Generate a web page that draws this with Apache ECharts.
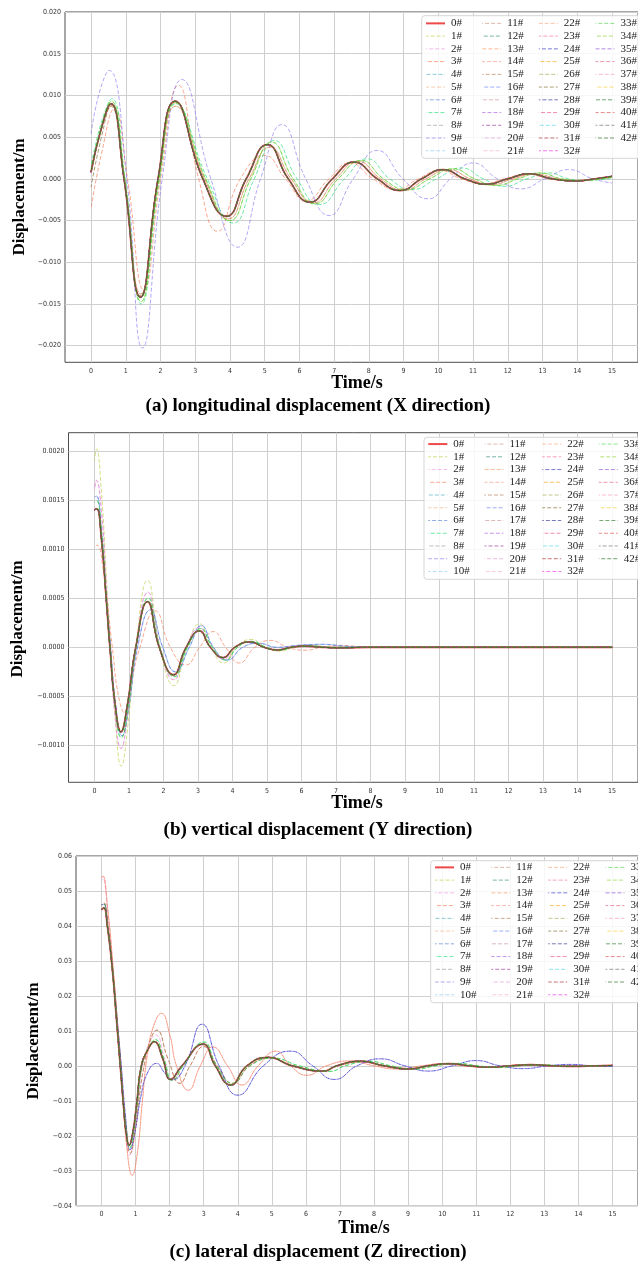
<!DOCTYPE html>
<html><head><meta charset="utf-8">
<script src="https://cdn.jsdelivr.net/npm/echarts@6/dist/echarts.min.js"></script>
<style>html,body{margin:0;padding:0;background:#fff}#c{width:638px;height:1267px}</style>
</head><body><div id="c"></div>
<script>
// ---------- tick labels / categories ----------
const timeTicks = [0,1,2,3,4,5,6,7,8,9,10,11,12,13,14,15];
const yTicksA = [-0.020,-0.015,-0.010,-0.005,0,0.005,0.010,0.015,0.020];
const yTicksB = [-0.0010,-0.0005,0,0.0005,0.0010,0.0015,0.0020];
const yTicksC = [-0.04,-0.03,-0.02,-0.01,0,0.01,0.02,0.03,0.04,0.05,0.06];
const pointNames = ['0#','1#','2#','3#','4#','5#','6#','7#','8#','9#','10#','11#','12#','13#','14#','15#','16#','17#','18#','19#','20#','21#','22#','23#','24#','25#','26#','27#','28#','29#','30#','31#','32#','33#','34#','35#','36#','37#','38#','39#','40#','41#','42#'];
const pointColors = ['#e41a1c','#b5c934','#f08ce0','#f5704a','#3fa7c0','#f3a97a','#4a78d0','#10d870','#909090','#7f6ff0','#7fc4f0',
 '#c88a70','#208070','#f79050','#f58a7a','#b06a40','#5a78f0','#c88a8a','#a050e0','#902090','#e090d0','#f5a8b8',
 '#f5a070','#f56090','#2020c0','#f5a000','#a0a040','#706018','#202090','#f04080','#40d0e0','#a01818','#f020e0',
 '#40d040','#80d020','#8040d0','#e05070','#f590b0','#f5c820','#1a701a','#e04040','#606060','#0e600e'];

// ---------- (a) longitudinal displacement X  [time s, displacement m] ----------
const aMain = [[0,0.0008],[0.28,0.0058],[0.57,0.0090],[0.95,0],[1.42,-0.0142],[1.93,0],[2.42,0.0093],[3.22,0],[3.9,-0.0045],[4.47,0],[5.08,0.0041],[5.68,0],[6.3,-0.0028],[6.95,0],[7.57,0.0020],[8.24,0],[8.9,-0.0014],[9.52,0],[10.14,0.0011],[10.76,0],[11.38,-0.00065],[12.0,0],[12.62,0.0006],[13.28,0],[13.95,-0.00025],[14.52,0],[15,0.0003]];
const aOlive = [[0,-0.0010],[0.3,0.0050],[0.57,0.0087],[0.95,0],[1.42,-0.0140],[1.93,0],[2.42,0.0092],[3.22,0],[3.9,-0.0045],[4.47,0],[5.08,0.0041],[5.68,0],[6.3,-0.0028],[6.95,0],[7.57,0.0020],[8.24,0],[8.9,-0.0014],[9.52,0],[10.14,0.0011],[10.76,0],[11.38,-0.00065],[12.0,0],[12.62,0.0006],[13.28,0],[13.95,-0.00025],[14.52,0],[15,0.0003]];
const aLav = [[0,0.0054],[0.25,0.0105],[0.52,0.0130],[1.03,0],[1.48,-0.0203],[2.05,0],[2.62,0.0119],[3.45,0],[4.22,-0.0082],[4.88,0],[5.5,0.0065],[6.18,0],[6.86,-0.0044],[7.55,0],[8.24,0.0034],[8.98,0],[9.71,-0.0024],[10.35,0],[11.0,0.0019],[11.7,0],[12.38,-0.0012],[13.07,0],[13.76,0.0011],[14.45,0],[15,-0.0005]];
const aSalmon = [[0,-0.0036],[0.3,0.0030],[0.67,0.0084],[1.05,0],[1.52,-0.0133],[2.0,0],[2.52,0.0112],[3.1,0],[3.64,-0.0063],[4.3,0],[5.0,0.0028],[5.6,0],[6.2,-0.0026],[6.85,0],[7.45,0.0019],[8.12,0],[8.8,-0.0013],[9.42,0],[10.05,0.0010],[10.66,0],[11.3,-0.0006],[11.9,0],[12.55,0.00055],[13.2,0],[13.9,-0.00025],[14.45,0],[15,0.0003]];
const aGreen = [[0,0.0015],[0.3,0.0068],[0.6,0.0096],[0.98,0],[1.45,-0.0150],[1.97,0],[2.45,0.0090],[3.35,0],[4.1,-0.0053],[4.7,0],[5.28,0.0046],[5.93,0],[6.57,-0.0031],[7.3,0],[7.95,0.0024],[8.6,0],[9.24,-0.0013],[9.95,0],[10.66,0.0013],[11.3,0],[11.9,-0.0009],[12.55,0],[13.19,0.0007],[13.75,0],[14.3,-0.0002],[15,0.0001]];
const aGreen2 = [[0,0.0010],[0.3,0.0063],[0.58,0.0093],[0.97,0],[1.44,-0.0147],[1.96,0],[2.44,0.0091],[3.3,0],[4.0,-0.0050],[4.6,0],[5.2,0.0044],[5.82,0],[6.45,-0.0030],[7.12,0],[7.78,0.0022],[8.42,0],[9.08,-0.0013],[9.75,0],[10.42,0.0012],[11.05,0],[11.65,-0.0008],[12.3,0],[12.92,0.0007],[13.55,0],[14.15,-0.0002],[14.7,0],[15,0.0002]];
const aTan = [[0,0.0009],[0.3,0.0060],[0.58,0.0088],[0.96,0],[1.43,-0.0138],[1.95,0],[2.44,0.0087],[3.27,0],[3.95,-0.0048],[4.55,0],[5.15,0.0038],[5.76,0],[6.4,-0.0029],[7.05,0],[7.68,0.0021],[8.34,0],[9.0,-0.0014],[9.64,0],[10.3,0.0011],[10.92,0],[11.52,-0.0007],[12.16,0],[12.78,0.0006],[13.42,0],[14.05,-0.00025],[14.6,0],[15,0.0002]];

// ---------- (b) vertical displacement Y ----------
const bMain = [[0,0.00140],[0.07,0.00141],[0.2,0.00112],[0.35,0.00046],[0.45,0],[0.6,-0.00058],[0.77,-0.00086],[0.95,-0.0006],[1.2,0],[1.54,0.000465],[1.88,0],[2.29,-0.00028],[2.66,0],[3.04,0.000166],[3.36,0],[3.73,-0.000105],[4.07,0],[4.5,0.000054],[4.92,0],[5.3,-0.000027],[5.7,0],[6.1,0.000012],[6.6,0],[7.1,-0.000005],[8,0],[15,0]];
const bYellow = [[0,0.0019],[0.06,0.00202],[0.2,0.0016],[0.35,0.0007],[0.47,0],[0.6,-0.0007],[0.78,-0.00121],[0.97,-0.0008],[1.2,0],[1.54,0.00068],[1.9,0],[2.3,-0.00039],[2.68,0],[3.04,0.00024],[3.38,0],[3.75,-0.00016],[4.1,0],[4.55,0.00008],[4.95,0],[5.35,-0.00004],[5.8,0],[6.2,0.00002],[7,0],[15,0]];
const bPink = [[0,0.0016],[0.06,0.0017],[0.2,0.0014],[0.35,0.0006],[0.46,0],[0.6,-0.0007],[0.77,-0.00103],[0.96,-0.0007],[1.2,0],[1.55,0.00056],[1.9,0],[2.3,-0.00033],[2.66,0],[3.04,0.0002],[3.37,0],[3.74,-0.00012],[4.08,0],[4.5,0.00006],[4.93,0],[5.3,-0.00003],[5.7,0],[6.1,0.000015],[7,0],[15,0]];
const bSalmon = [[0,0.00102],[0.08,0.00104],[0.25,0.0008],[0.52,0],[0.7,-0.0005],[0.88,-0.00067],[1.05,-0.0004],[1.32,0],[1.76,0.00037],[2.2,0],[2.65,-0.00018],[3.05,0],[3.45,0.00016],[3.8,0],[4.2,-0.00016],[4.65,0],[5.1,0.00007],[5.6,0],[6.1,-0.00003],[6.6,0],[7.1,0.00002],[8,0],[15,0]];
const bBlue = [[0,0.00153],[0.06,0.00154],[0.2,0.0012],[0.35,0.0005],[0.47,0],[0.62,-0.0006],[0.8,-0.0009],[1.0,-0.0006],[1.25,0],[1.62,0.00038],[1.98,0],[2.35,-0.00025],[2.75,0],[3.1,0.00022],[3.45,0],[3.85,-0.00013],[4.3,0],[4.75,0.00004],[5.3,0],[5.9,0.00002],[6.6,0.00003],[7.3,0.00001],[8,0],[15,0]];
const bGreen = [[0,0.00148],[0.07,0.00149],[0.2,0.0012],[0.35,0.0005],[0.46,0],[0.6,-0.0006],[0.78,-0.00092],[0.97,-0.00065],[1.21,0],[1.56,0.0005],[1.9,0],[2.31,-0.0003],[2.7,0],[3.08,0.00019],[3.42,0],[3.8,-0.00013],[4.15,0],[4.56,0.00006],[4.98,0],[5.36,-0.00003],[5.76,0],[6.16,0.000015],[7,0],[15,0]];

// ---------- (c) lateral displacement Z ----------
const cMain = [[0,0.0447],[0.07,0.0452],[0.17,0.0400],[0.31,0.0283],[0.45,0.012],[0.55,0],[0.65,-0.012],[0.72,-0.019],[0.81,-0.0227],[0.92,-0.019],[1.03,-0.011],[1.17,0],[1.36,0.0046],[1.55,0.0069],[1.8,0.002],[2.02,-0.0039],[2.36,0],[2.98,0.0062],[3.34,0],[3.79,-0.0055],[4.27,0],[4.89,0.0024],[5.6,0],[6.52,-0.0015],[6.9,0],[7.6,0.0013],[8.3,0],[9.0,-0.0009],[9.6,0],[10.2,0.0006],[10.8,0],[11.4,-0.0004],[12.0,0],[12.6,0.0003],[13.25,0],[13.9,-0.00015],[14.5,0],[15,0.0001]];
const cSalmon = [[0,0.0535],[0.04,0.0543],[0.17,0.046],[0.35,0.027],[0.5,0.008],[0.62,-0.008],[0.75,-0.024],[0.9,-0.0313],[1.05,-0.025],[1.2,-0.010],[1.35,0.0035],[1.55,0.012],[1.76,0.0150],[2.0,0.009],[2.2,0],[2.55,-0.0070],[2.9,0],[3.27,0.0054],[3.7,0],[4.12,-0.0055],[4.6,0],[5.12,0.0042],[5.55,0],[6.03,-0.0027],[6.6,0],[7.3,0.0014],[8.0,0],[8.7,-0.0009],[9.4,0],[10.0,0.0006],[10.6,0],[11.2,-0.0004],[11.85,0],[12.5,0.0003],[13.1,0],[13.8,-0.00015],[14.4,0],[15,0.0001]];
const cPink = [[0,0.0530],[0.04,0.0535],[0.17,0.045],[0.33,0.028],[0.47,0.010],[0.57,-0.002],[0.68,-0.016],[0.83,-0.0255],[0.95,-0.021],[1.1,-0.008],[1.2,0],[1.4,0.0065],[1.6,0.0088],[1.85,0.002],[2.06,-0.0042],[2.38,0],[2.98,0.0060],[3.36,0],[3.8,-0.0054],[4.28,0],[4.9,0.0023],[5.6,0],[6.5,-0.0015],[6.9,0],[7.6,0.0013],[8.3,0],[9.0,-0.0009],[9.6,0],[10.2,0.0006],[10.8,0],[11.4,-0.0004],[12.0,0],[12.6,0.0003],[13.25,0],[13.9,-0.00015],[14.5,0],[15,0.0001]];
const cBlue = [[0,0.0460],[0.07,0.0462],[0.18,0.040],[0.33,0.027],[0.48,0.011],[0.58,0],[0.7,-0.014],[0.84,-0.0240],[0.98,-0.019],[1.15,-0.009],[1.35,-0.002],[1.62,0.0007],[1.85,-0.002],[2.08,-0.0040],[2.45,0],[2.95,0.0119],[3.45,0],[4.0,-0.0084],[4.75,0],[5.55,0.0042],[6.2,0],[6.84,-0.0039],[7.5,0],[8.2,0.0020],[8.9,0],[9.6,-0.0015],[10.3,0],[11.0,0.0015],[11.7,0],[12.4,-0.0008],[13.1,0],[13.8,0.0004],[14.4,0],[15,-0.0002]];
const cTan = [[0,0.0460],[0.07,0.0466],[0.18,0.041],[0.33,0.028],[0.47,0.012],[0.57,0],[0.68,-0.014],[0.85,-0.0250],[0.98,-0.019],[1.12,-0.008],[1.25,0],[1.42,0.0070],[1.62,0.0102],[1.95,0.002],[2.3,-0.0050],[2.6,0],[3.0,0.0055],[3.4,0],[3.85,-0.0050],[4.35,0],[4.95,0.0022],[5.65,0],[6.5,-0.0014],[6.95,0],[7.65,0.0012],[8.35,0],[9.05,-0.0008],[9.65,0],[10.25,0.0006],[10.85,0],[11.45,-0.0004],[12.05,0],[12.65,0.0003],[13.3,0],[13.95,-0.00015],[14.55,0],[15,0.0001]];
const cGreen = [[0,0.0458],[0.07,0.0462],[0.17,0.0405],[0.32,0.028],[0.46,0.012],[0.56,0],[0.66,-0.012],[0.74,-0.019],[0.83,-0.0235],[0.94,-0.019],[1.05,-0.011],[1.19,0],[1.38,0.0052],[1.58,0.0075],[1.83,0.002],[2.08,-0.0042],[2.4,0],[3.0,0.0068],[3.38,0],[3.85,-0.0050],[4.35,0],[5.05,0.0022],[5.8,0],[6.7,-0.0016],[7.15,0],[7.85,0.0013],[8.5,0],[9.2,-0.0010],[9.8,0],[10.45,0.0007],[11.05,0],[11.65,-0.0005],[12.25,0],[12.9,0.0003],[13.5,0],[14.1,-0.00015],[14.7,0],[15,0.0001]];

// which measured curve each point follows (default: main curve)
const assignA = {3:aSalmon, 9:aLav, 7:aGreen, 33:aGreen2, 34:aGreen2, 15:aTan, 22:aTan, 27:aOlive};
const assignB = {1:bYellow, 2:bPink, 20:bPink, 3:bSalmon, 6:bBlue, 16:bBlue, 7:bGreen, 33:bGreen};
const assignC = {3:cSalmon, 14:cSalmon, 2:cPink, 9:cBlue, 24:cBlue, 15:cTan, 11:cTan, 7:cGreen, 33:cGreen};

const panels = [
  {main:aMain, assign:assignA, grid:{left:65, top:12, width:577.5, height:350.3}, ymin:-0.022, ymax:0.020, yticks:yTicksA, dec:3,
   legendBox:[421.7,15.7,230,142.6], legendTop:17, legendCols:[425,481.7,538.3,595],
   ytitle:[19.5,197], xtitle:[357,383], caption:[318,406], captionText:'(a) longitudinal displacement (X direction)'},
  {main:bMain, assign:assignB, grid:{left:68.5, top:432.7, width:577.5, height:349.6}, ymin:-0.001375, ymax:0.002185, yticks:yTicksB, dec:4,
   legendBox:[424,437.3,230,142], legendTop:437.7, legendCols:[427.3,484,541.7,598.3],
   ytitle:[17.5,619], xtitle:[357,803], caption:[318,830], captionText:'(b) vertical displacement (Y direction)'},
  {main:cMain, assign:assignC, grid:{left:76, top:856, width:577.5, height:349.7}, ymin:-0.04, ymax:0.06, yticks:yTicksC, dec:2,
   legendBox:[430.7,860.7,230,142], legendTop:861, legendCols:[434,490.7,547.7,605],
   ytitle:[34,1041], xtitle:[364,1228], caption:[318,1252], captionText:'(c) lateral displacement (Z direction)'}
];

const grids=[], xAxes=[], yAxes=[], series=[], legends=[], graphics=[];
panels.forEach((p,k)=>{
  grids.push(Object.assign({show:true, borderColor:'#4d4d4d', borderWidth:1, backgroundColor:'transparent'}, p.grid));
  xAxes.push({type:'value', gridIndex:k, min:-0.75, max:15.75,
    axisLine:{show:false}, axisTick:{show:false, customValues:timeTicks},
    axisLabel:{customValues:timeTicks, fontSize:7, color:'#333', margin:5, fontFamily:'"DejaVu Sans Condensed","DejaVu Sans",sans-serif'},
    splitLine:{show:true, lineStyle:{color:'#cfcfcf', width:1}}});
  yAxes.push({type:'value', gridIndex:k, min:p.ymin, max:p.ymax,
    axisLine:{show:false}, axisTick:{show:false, customValues:p.yticks},
    axisLabel:{customValues:p.yticks, fontSize:7, color:'#333', margin:4, fontFamily:'"DejaVu Sans Condensed","DejaVu Sans",sans-serif',
      formatter:v=>(v<-1e-12?'\u2212':'')+Math.abs(v).toFixed(p.dec)},
    splitLine:{show:true, lineStyle:{color:'#cfcfcf', width:1}}});
  pointNames.forEach((nm,i)=>{
    const d = p.assign[i] || p.main;
    series.push({type:'line', name:nm, xAxisIndex:k, yAxisIndex:k, data:d, smooth:0.5,
      symbol:'none', showSymbol:false, silent:true, animation:false, clip:true,
      lineStyle: i===0 ? {color:pointColors[i], width:1.8, type:'solid', opacity:0.85}
                       : {color:pointColors[i], width:1, type:[4,2], dashOffset:(i*1.37)%6, opacity:0.6},
      itemStyle:{color:pointColors[i]}});
  });
  // legend frame
  const b=p.legendBox;
  graphics.push({type:'rect', z:3, silent:true, shape:{x:b[0], y:b[1], width:b[2], height:b[3], r:3},
    style:{fill:'rgba(255,255,255,0.82)', stroke:'#d6d6d6', lineWidth:1}});
  for(let c=0;c<4;c++){
    legends.push({orient:'vertical', left:p.legendCols[c], top:p.legendTop, padding:0, itemGap:0,
      itemWidth:19, itemHeight:8, selectedMode:false, z:5,
      itemStyle:{opacity:0, borderWidth:0},
      lineStyle:{width:1},
      data:pointNames.slice(c*11, c*11+11).map(nm => nm==='0#'
        ? {name:nm, lineStyle:{width:2, color:'#ef4a4a', opacity:1}} : {name:nm}),
      textStyle:{fontFamily:'"Liberation Serif","Times New Roman",serif', fontSize:11, color:'#222', lineHeight:12.74, padding:[0,0,0,1]}});
  }
  graphics.push({type:'text', silent:true, x:p.ytitle[0], y:p.ytitle[1], rotation:Math.PI/2,
    style:{text:'Displacement/m', font:'bold 17px "Liberation Serif"', fill:'#000', textAlign:'center', textVerticalAlign:'middle'}});
  graphics.push({type:'text', silent:true, x:p.xtitle[0], y:p.xtitle[1],
    style:{text:'Time/s', font:'bold 18px "Liberation Serif"', fill:'#000', textAlign:'center', textVerticalAlign:'middle'}});
  graphics.push({type:'text', silent:true, x:p.caption[0], y:p.caption[1],
    style:{text:p.captionText, font:'bold 19px "Liberation Serif"', fill:'#000', textAlign:'center', textVerticalAlign:'middle'}});
});

const chart = echarts.init(document.getElementById('c'), null, {renderer:'canvas'});
chart.setOption({animation:false, backgroundColor:'#fff', grid:grids, xAxis:xAxes, yAxis:yAxes, series:series, legend:legends, graphic:graphics});
</script></body></html>
